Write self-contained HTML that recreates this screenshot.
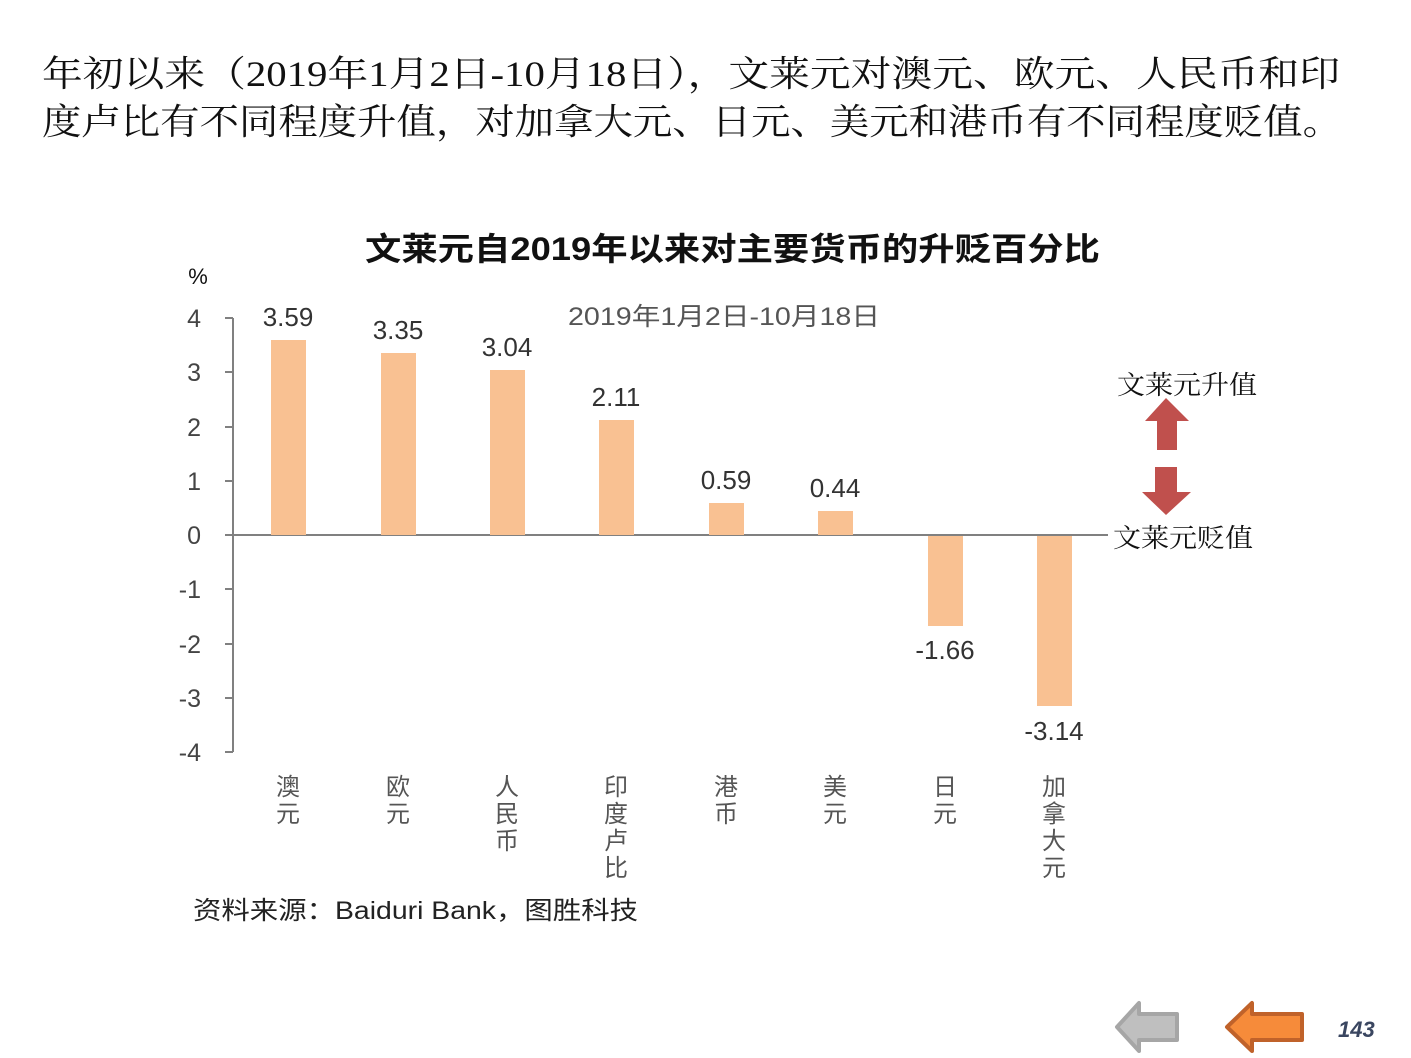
<!DOCTYPE html>
<html><head><meta charset="utf-8"><style>
body{margin:0;background:#fff;width:1411px;height:1058px;overflow:hidden}
svg{display:block}
</style></head><body>
<svg width="1411" height="1058" xmlns="http://www.w3.org/2000/svg">
<g font-family="'Liberation Serif','Noto Serif CJK SC',serif" font-size="36" fill="#111">
<text x="42" y="86" textLength="1298" lengthAdjust="spacingAndGlyphs">年初以来（2019年1月2日-10月18日），文莱元对澳元、欧元、人民币和印</text>
<text x="42" y="134" textLength="1300" lengthAdjust="spacingAndGlyphs">度卢比有不同程度升值，对加拿大元、日元、美元和港币有不同程度贬值。</text>
</g>
<text x="365" y="260" textLength="735" lengthAdjust="spacingAndGlyphs" font-family="'Liberation Sans','Noto Sans CJK SC',sans-serif" font-size="32" font-weight="bold" fill="#111">文莱元自2019年以来对主要货币的升贬百分比</text>
<g font-family="'Liberation Sans','Noto Sans CJK SC',sans-serif" fill="#444" font-size="25">
<text x="198" y="284" text-anchor="middle" font-size="22" fill="#111">%</text>
<text x="568" y="325" textLength="312" lengthAdjust="spacingAndGlyphs" fill="#555">2019年1月2日-10月18日</text>
<g text-anchor="end">
<text x="201" y="327">4</text><text x="201" y="381">3</text><text x="201" y="436">2</text><text x="201" y="490">1</text><text x="201" y="544">0</text><text x="201" y="598">-1</text><text x="201" y="653">-2</text><text x="201" y="707">-3</text><text x="201" y="761">-4</text>
</g>
</g>
<g stroke="#808080" stroke-width="2" fill="none">
<line x1="233" y1="318" x2="233" y2="752"/>
<line x1="225" y1="318" x2="233" y2="318"/><line x1="225" y1="372" x2="233" y2="372"/><line x1="225" y1="427" x2="233" y2="427"/><line x1="225" y1="481" x2="233" y2="481"/><line x1="225" y1="589" x2="233" y2="589"/><line x1="225" y1="644" x2="233" y2="644"/><line x1="225" y1="698" x2="233" y2="698"/><line x1="225" y1="752" x2="233" y2="752"/>
<line x1="225" y1="535" x2="1108" y2="535"/>
</g>
<g fill="#F9C192">
<rect x="271" y="340" width="35" height="195"/>
<rect x="381" y="353" width="35" height="182"/>
<rect x="490" y="370" width="35" height="165"/>
<rect x="599" y="420" width="35" height="115"/>
<rect x="709" y="503" width="35" height="32"/>
<rect x="818" y="511" width="35" height="24"/>
<rect x="928" y="536" width="35" height="90"/>
<rect x="1037" y="536" width="35" height="170"/>
</g>
<g font-family="'Liberation Sans',sans-serif" font-size="26" fill="#333" text-anchor="middle">
<text x="288" y="326">3.59</text><text x="398" y="339">3.35</text><text x="507" y="356">3.04</text><text x="616" y="406">2.11</text><text x="726" y="489">0.59</text><text x="835" y="497">0.44</text><text x="945" y="659">-1.66</text><text x="1054" y="740">-3.14</text>
</g>
<g font-family="'Liberation Sans','Noto Sans CJK SC',sans-serif" font-size="24" fill="#555" text-anchor="middle">
<text x="288" y="795">澳</text><text x="288" y="822">元</text>
<text x="398" y="795">欧</text><text x="398" y="822">元</text>
<text x="507" y="795">人</text><text x="507" y="822">民</text><text x="507" y="849">币</text>
<text x="616" y="795">印</text><text x="616" y="822">度</text><text x="616" y="849">卢</text><text x="616" y="876">比</text>
<text x="726" y="795">港</text><text x="726" y="822">币</text>
<text x="835" y="795">美</text><text x="835" y="822">元</text>
<text x="945" y="795">日</text><text x="945" y="822">元</text>
<text x="1054" y="795">加</text><text x="1054" y="822">拿</text><text x="1054" y="849">大</text><text x="1054" y="876">元</text>
</g>
<g font-family="'Liberation Serif','Noto Serif CJK SC',serif" font-size="26" fill="#111">
<text x="1117" y="394" textLength="140" lengthAdjust="spacingAndGlyphs">文莱元升值</text>
<text x="1113" y="547" textLength="140" lengthAdjust="spacingAndGlyphs">文莱元贬值</text>
</g>
<polygon points="1166,398 1189,421 1177,421 1177,450 1157,450 1157,421 1145,421" fill="#C0504D"/>
<polygon points="1155,467 1177,467 1177,492 1191,492 1166,515 1142,492 1155,492" fill="#C0504D"/>
<text x="193" y="919" textLength="445" lengthAdjust="spacingAndGlyphs" font-family="'Liberation Sans','Noto Sans CJK SC',sans-serif" font-size="25" fill="#222">资料来源：Baiduri  Bank，图胜科技</text>
<polygon points="1117,1027 1139,1003 1139,1014 1177,1014 1177,1040 1139,1040 1139,1051" fill="#BFBFBF" stroke="#A6A6A6" stroke-width="4" stroke-linejoin="round"/>
<polygon points="1227,1027 1252,1003 1252,1014 1302,1014 1302,1040 1252,1040 1252,1051" fill="#F68B3A" stroke="#C0622A" stroke-width="4" stroke-linejoin="round"/>
<text x="1338" y="1037" font-family="'Liberation Sans',sans-serif" font-size="22" font-weight="bold" font-style="italic" fill="#3A4660">143</text>
</svg>
</body></html>
